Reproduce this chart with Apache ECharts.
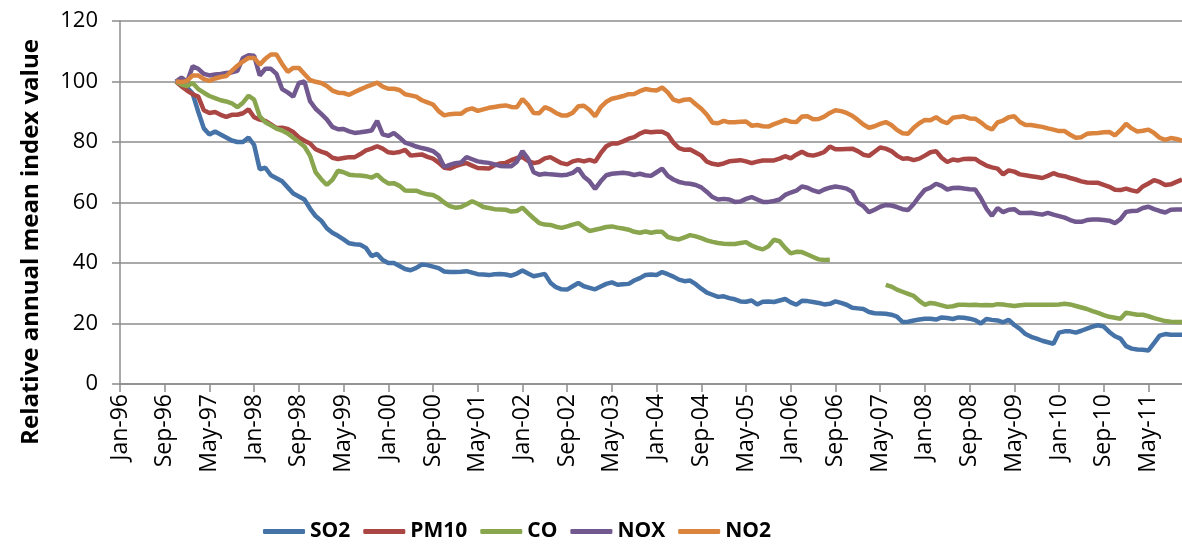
<!DOCTYPE html>
<html>
<head>
<meta charset="utf-8">
<script src="https://cdn.jsdelivr.net/npm/echarts@6/dist/echarts.min.js"></script>
<style>
  html, body { margin: 0; padding: 0; background: #fff; }
  #chart { width: 1182px; height: 547px; }
</style>
</head>
<body>
<div id="chart"></div>
<script>
// monthly axis Jan-96 .. Nov-11, label every 8 months
const monthNames = ['Jan', 'Feb', 'Mar', 'Apr', 'May', 'Jun', 'Jul', 'Aug', 'Sep', 'Oct', 'Nov', 'Dec'];
const years = ['96', '97', '98', '99', '00', '01', '02', '03', '04', '05', '06', '07', '08', '09', '10', '11'];
const lastMonth = 'Nov-11';
const firstDataMonth = 'Nov-96';
const yTicks = [0, 20, 40, 60, 80, 100, 120];

// values from Nov-96 onwards, one per month
const so2 = [
  100, 99, 98, 96, 90, 84.5, 82.5, 83.5, 82.5, 81.5,
  80.5, 80, 80, 81.5, 79, 71, 71.5, 69, 68, 67,
  65, 63, 62, 61, 58, 55.5, 54, 51.5, 50, 49,
  47.8, 46.5, 46.2, 46, 45, 42.3, 43, 41, 40, 40,
  39, 38, 37.6, 38.4, 39.5, 39.3, 38.8, 38.3, 37.2, 37,
  37, 37.1, 37.3, 36.8, 36.3, 36.2, 36, 36.3, 36.4, 36.2,
  35.8, 36.5, 37.5, 36.5, 35.6, 36, 36.4, 33.5, 32, 31.3,
  31.2, 32.3, 33.4, 32.3, 31.8, 31.3, 32.2, 33.1, 33.6, 32.8,
  33, 33.1, 34.2, 35, 36, 36.2, 36, 37, 36.3, 35.5,
  34.5, 34, 34.2, 33, 31.5, 30.2, 29.5, 28.8, 29, 28.4,
  28, 27.3, 27.2, 27.6, 26.3, 27.2, 27.3, 27.1, 27.6, 28.1,
  27, 26.2, 27.5, 27.4, 27.1, 26.8, 26.3, 26.5, 27.3, 26.8,
  26.2, 25.2, 25, 24.8, 23.8, 23.4, 23.3, 23.2, 22.9, 22.3,
  20.5, 20.6, 21, 21.3, 21.6, 21.6, 21.3, 22, 21.8, 21.5,
  22, 21.9, 21.6, 21.1, 20, 21.5, 21.2, 21, 20.4, 21.2,
  19.5, 18.2, 16.5, 15.6, 15, 14.3, 13.8, 13.3, 17, 17.4,
  17.4, 17, 17.6, 18.3, 19, 19.4, 19, 17.2, 15.8, 15,
  12.5, 11.7, 11.4, 11.3, 11.1, 13.5, 16, 16.5, 16.3, 16.3,
  16.3
];
const pm10 = [
  100, 98.4, 97, 95.8, 95, 90.5, 89.6, 89.9, 89, 88.3,
  89, 89, 89.5, 90.8, 88.2, 87.4, 87, 85.8, 84.6, 84.7,
  84.3, 83.3, 81.5, 80.4, 79.5, 77.6, 76.8, 76.2, 74.8, 74.4,
  74.7, 75, 75, 76, 77.2, 77.8, 78.6, 77.8, 76.6, 76.4,
  76.7, 77.4, 75.5, 75.7, 75.9, 75.1, 74.5, 73.2, 71.5, 71.2,
  72, 72.6, 73, 72.2, 71.4, 71.3, 71.2, 72.3, 72.9, 73.1,
  74, 74.7, 75, 73.8, 73, 73.4, 74.6, 75, 74, 73,
  72.6, 73.6, 74, 73.6, 74.1, 73.5, 76.3, 78.6, 79.5, 79.5,
  80.2, 81.1, 81.6, 82.8, 83.5, 83.2, 83.4, 83.4, 82.5, 79.8,
  78, 77.4, 77.5, 76.5, 75.5, 73.5, 72.8, 72.5, 72.9, 73.6,
  73.8, 74, 73.6, 73, 73.5, 73.9, 73.9, 73.9, 74.5, 75.3,
  74.6, 75.8, 76.8, 75.8, 75.5, 76, 76.7, 78.5, 77.6, 77.6,
  77.7, 77.8, 77, 75.8, 75.4, 76.8, 78.2, 77.8, 77, 75.5,
  74.5, 74.6, 74, 74.5, 75.5, 76.6, 77, 74.8, 73.4, 74.2,
  73.9, 74.4, 74.5, 74.4, 73.2, 72.2, 71.6, 71.2, 69.3, 70.6,
  70.2, 69.3, 69, 68.7, 68.4, 68.1, 68.8, 69.7, 69, 68.7,
  68.1, 67.6, 67, 66.6, 66.5, 66.5, 65.8, 65.2, 64.2, 64.1,
  64.6, 64, 63.6, 65.3, 66.3, 67.4, 66.8, 65.8, 66, 66.8,
  67.6
];
const co = [
  100, 99, 98.5, 99.5, 97.5, 96.3, 95.2, 94.5, 93.8, 93.4,
  92.8, 91.5, 93, 95.3, 94, 88.5, 86.5, 85.5, 84.4, 83.8,
  82.8, 81.4, 80, 78.5, 75.5, 70, 67.7, 65.8, 67.5, 70.5,
  70, 69.2, 69, 68.9, 68.7, 68.2, 69.2, 67.5, 66.3, 66.4,
  65.5, 64, 63.9, 63.9, 63.2, 62.7, 62.5, 61.5, 60, 58.8,
  58.3, 58.5, 59.4, 60.4, 59.6, 58.5, 58.2, 57.8, 57.7, 57.6,
  57, 57.2, 58.3, 56.5, 54.8, 53.2, 52.7, 52.6, 52, 51.6,
  52.1, 52.7, 53.2, 51.8, 50.6, 51, 51.4, 51.9, 52.1, 51.7,
  51.4, 51, 50.3, 50, 50.4, 50, 50.3, 50.3, 48.6, 48.1,
  47.8, 48.5, 49.2, 48.8, 48.2, 47.5, 47, 46.6, 46.4, 46.3,
  46.3, 46.6, 46.9, 45.8, 45, 44.5, 45.5, 47.7, 47.2, 45,
  43.2, 43.7, 43.6, 42.8, 42, 41.2, 41, 41.1, null, null,
  null, null, null, null, null, null, null, 32.8, 32.2, 31.2,
  30.5, 29.8, 29.1, 27.5, 26.2, 26.8, 26.5, 26, 25.5, 25.7,
  26.2, 26.2, 26.1, 26.2, 26, 26.1, 26, 26.4, 26.3, 26,
  25.8, 26, 26.2, 26.2, 26.2, 26.2, 26.2, 26.2, 26.3, 26.5,
  26.3, 25.8, 25.3, 24.8, 24.1, 23.5, 22.8, 22.2, 21.9, 21.6,
  23.6, 23.2, 22.9, 22.9, 22.4, 21.8, 21.3, 20.8, 20.6, 20.5,
  20.5
];
const nox = [
  100, 101.3, 99.8, 105, 104.2, 102.5, 102, 102.3, 102.5, 102.8,
  103, 103.5, 107.8, 108.7, 108.5, 102, 104.2, 104.2, 102.5, 97.5,
  96.4, 95, 99.5, 100, 93.5, 91, 89.3, 87.5, 85, 84.2,
  84.3, 83.5, 83, 83.2, 83.5, 83.8, 87, 82.5, 82, 83,
  81.5, 79.8, 79.2, 78.5, 78, 77.6, 77, 75.5, 71.8, 72.4,
  73, 73.2, 75, 74.3, 73.6, 73.3, 73.1, 72.6, 72.1, 72,
  72, 73.5, 77, 74.5, 70, 69.2, 69.5, 69.3, 69.2, 69,
  69.2, 69.8, 71.2, 68.5, 67, 64.5, 67, 69, 69.5, 69.7,
  69.8, 69.6, 69.1, 69.5, 69, 68.8, 70, 71.2, 68.8, 67.6,
  66.8, 66.4, 66.2, 65.8, 65, 63.5, 61.8, 61, 61.2, 61,
  60.2, 60.3, 61.2, 61.8, 61, 60.2, 60.2, 60.5, 61, 62.5,
  63.3, 63.9, 65.3, 64.9, 64, 63.4, 64.3, 64.9, 65.3, 65,
  64.6, 63.5, 60, 58.8, 56.8, 57.6, 58.6, 59.2, 59, 58.5,
  57.8, 57.5, 59.5, 62, 64.2, 64.9, 66.2, 65.5, 64.3, 64.8,
  64.9, 64.6, 64.4, 64.3, 61.5, 58, 55.6, 58.2, 56.8, 57.6,
  57.8, 56.5, 56.5, 56.6, 56.3, 56, 56.6, 56, 55.5, 55,
  54.2, 53.6, 53.6, 54.2, 54.4, 54.4, 54.2, 54, 53.2, 54.5,
  56.9, 57.2, 57.3, 58.2, 58.6, 57.8, 57.2, 56.7, 57.6, 57.7,
  57.7
];
const no2 = [
  100, 99.8, 100.2, 102, 102, 100.8, 100.2, 101, 101.5, 101.8,
  103.5, 105.2, 106.6, 107.8, 107.8, 105.6, 107.5, 108.9, 108.9, 105.8,
  103.2, 104.5, 104.5, 102.5, 100.5, 99.9, 99.5, 98.5, 97, 96.3,
  96.2, 95.6, 96.5, 97.4, 98.2, 98.9, 99.6, 98.3, 97.6, 97.6,
  97.2, 95.8, 95.4, 95, 93.8, 93.1, 92.4, 90.2, 88.8, 89.2,
  89.3, 89.3, 90.6, 91.1, 90.3, 90.8, 91.3, 91.6, 91.9, 92.1,
  91.6, 91.5, 94.2, 92.3, 89.6, 89.5, 91.5, 90.8, 89.6, 88.8,
  88.8, 89.7, 91.8, 92, 90.6, 88.5, 91.5, 93.3, 94.3, 94.7,
  95.2, 95.8, 95.9, 96.8, 97.5, 97.2, 97, 98, 96.4, 94,
  93.4, 94, 94.1, 92.5, 91, 89, 86.4, 86.2, 87, 86.5,
  86.5, 86.7, 86.8, 85.4, 85.6, 85.2, 85.1, 85.9, 86.6, 87.3,
  86.7, 86.6, 88.4, 88.5, 87.5, 87.6, 88.4, 89.6, 90.5, 90.2,
  89.6, 88.7, 87.3, 85.8, 84.7, 85.2, 86, 86.6, 85.6, 84,
  82.9, 82.7, 84.7, 86.2, 87.3, 87.2, 88.2, 86.9, 86.2, 88,
  88.3, 88.5, 87.8, 87.7, 86.5, 85, 84.1, 86.5, 87.1, 88.2,
  88.5, 86.6, 85.6, 85.6, 85.3, 85, 84.5, 84.1, 83.6, 83.6,
  82.4, 81.4, 81.6, 82.7, 82.9, 83, 83.2, 83.3, 82.2, 83.9,
  86, 84.5, 83.5, 83.7, 84.1, 83, 81.4, 80.7, 81.3, 81,
  80.5
];

const seriesNames = ['SO2', 'PM10', 'CO', 'NOX', 'NO2'];
const seriesData = [so2, pm10, co, nox, no2];
const colors = ['#4572A7', '#AA4643', '#89A54E', '#71588F', '#DB843D'];

const categories = [];
years.forEach(function (y) {
  monthNames.forEach(function (m) { categories.push(m + '-' + y); });
});
categories.length = categories.indexOf(lastMonth) + 1;
const lead = categories.indexOf(firstDataMonth);

const chart = echarts.init(document.getElementById('chart'));
const font = '"Open Sans", "Noto Sans", sans-serif';

var option = {
  animation: false,
  color: colors,
  grid: { left: 120, right: 0, top: 21, bottom: 163 },
  legend: {
    data: seriesNames,
    left: 258,
    top: 516,
    icon: 'roundRect',
    itemWidth: 42,
    itemHeight: 5,
    itemGap: 13,
    textStyle: { fontFamily: font, fontWeight: 'bold', fontSize: 21, color: '#000' }
  },
  graphic: [{
    type: 'text',
    x: 31,
    y: 242,
    rotation: Math.PI / 2,
    style: {
      text: 'Relative annual mean index value',
      font: 'bold 24px "Open Sans", sans-serif',
      fill: '#000',
      textAlign: 'center',
      textVerticalAlign: 'middle'
    }
  }],
  xAxis: {
    type: 'category',
    boundaryGap: false,
    data: categories,
    axisLine: { lineStyle: { color: '#8c8c8c', width: 1.5 } },
    axisTick: { interval: 7, length: 8, lineStyle: { color: '#8c8c8c', width: 1.5 } },
    axisLabel: {
      interval: 7,
      rotate: 90,
      margin: 10,
      fontFamily: font,
      fontSize: 23,
      color: '#000'
    },
    splitLine: { show: false }
  },
  yAxis: {
    type: 'value',
    min: yTicks[0],
    max: yTicks[yTicks.length - 1],
    interval: 20,
    axisLine: { show: true, lineStyle: { color: '#8c8c8c', width: 1.5 } },
    axisTick: { show: true, length: 8, lineStyle: { color: '#8c8c8c', width: 1.5 } },
    axisLabel: { margin: 22, fontFamily: font, fontSize: 22, color: '#000' },
    splitLine: { lineStyle: { color: '#8c8c8c', width: 1.5 } }
  },
  series: seriesNames.map(function (name, i) {
    return {
      name: name,
      type: 'line',
      symbol: 'none',
      connectNulls: false,
      lineStyle: { width: 4.5, color: colors[i] },
      data: new Array(lead).fill(null).concat(seriesData[i])
    };
  })
};

chart.setOption(option);
</script>
</body>
</html>
